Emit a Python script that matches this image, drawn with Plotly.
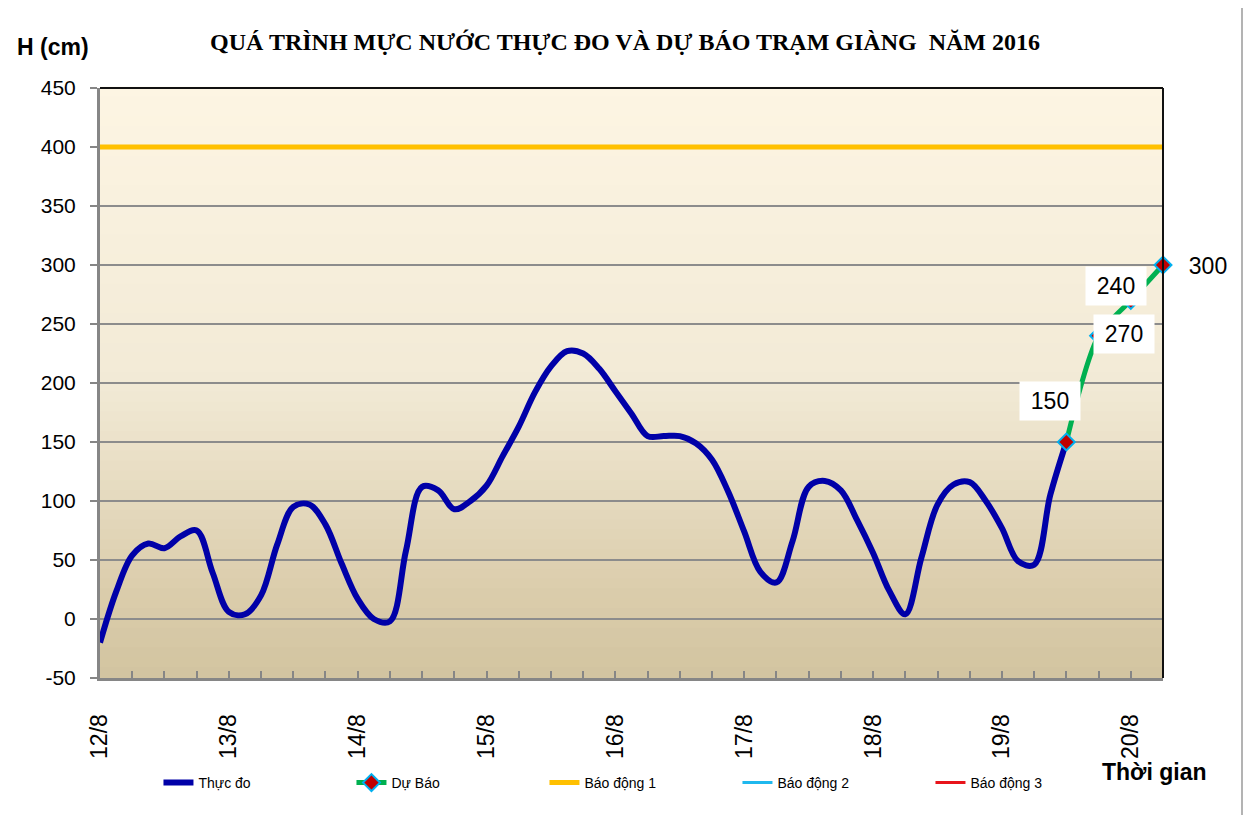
import plotly.graph_objects as go

# ---------------- data ----------------
day_ticks = [0, 24, 48, 72, 96, 120, 144, 168, 192]
day_labels = ["12/8", "13/8", "14/8", "15/8", "16/8", "17/8", "18/8", "19/8", "20/8"]

y_ticks = [-50, 0, 50, 100, 150, 200, 250, 300, 350, 400, 450]
y_labels = ["-50", "0", "50", "100", "150", "200", "250", "300", "350", "400", "450"]

obs_hours = [0, 3, 6, 9, 12, 15, 18, 21, 24, 27, 30, 33, 36, 39, 42, 45, 48, 51, 54, 57,
             60, 63, 66, 69, 72, 75, 78, 81, 84, 87, 90, 93, 96, 99, 102, 105, 108, 111, 114, 117,
             120, 123, 126, 129, 132, 135, 138, 141, 144, 147, 150, 153, 156, 159, 162, 165, 168, 171, 174, 177,
             180]
obs_values = [-20, 23, 54, 64, 60, 70, 75, 39, 6, 4, 20, 63, 95, 97, 80, 47, 17, 0, -2, 58,
              112, 109, 93, 100, 113, 138, 163, 192, 214, 227, 225, 212, 193, 174, 155, 155, 155, 149, 135, 108,
              74, 40, 31, 66, 112, 117, 109, 84, 56, 24, 4, 52, 97, 114, 116, 100, 77, 49, 46, 105,
              150]

fc_hours = [180, 186, 192, 198]
fc_values = [150, 240, 270, 300]
fc_labels = ["150", "240", "270", "300"]

alarm_names = ["Báo động 1", "Báo động 2", "Báo động 3"]
alarm_levels = [400, None, None]
alarm_colors = ["#FFC000", "#1FB8EE", "#E8141B"]

x_range = [0, 198]

# ---------------- geometry helpers (page has 8px body margin) ----------------
OFF = 8
W, H = 1235, 808
PL, PR, PT, PB = 100, 1163, 88, 678   # plot area in screen pixels
PW, PH = PR - PL, PB - PT
def px(xs):
    return (xs - PL) / PW
def py(ys):
    return (PB - ys) / PH

fig = go.Figure()

fig.add_trace(go.Scatter(
    x=obs_hours, y=obs_values, mode="lines", name="Thực đo",
    line=dict(color="#0000A8", width=6, shape="spline", smoothing=1.0),
))

fig.add_trace(go.Scatter(
    x=fc_hours, y=fc_values, mode="lines+markers", name="Dự Báo",
    line=dict(color="#00B050", width=5, shape="spline", smoothing=0.8),
    marker=dict(symbol="diamond", size=13, color="#C00000",
                line=dict(color="#00B0F0", width=2)),
    cliponaxis=False,
))

for nm, lv, col in zip(alarm_names, alarm_levels, alarm_colors):
    fig.add_trace(go.Scatter(
        x=x_range, y=[lv, lv], mode="lines", name=nm,
        line=dict(color=col, width=5 if lv is not None else 3),
    ))

# background gradient (style only)
stops = [(0.0, (253, 245, 227)), (0.5, (242, 234, 214)), (0.85, (219, 205, 172)), (1.0, (210, 196, 160))]
def col_at(t):
    for (t0, c0), (t1, c1) in zip(stops[:-1], stops[1:]):
        if t0 <= t <= t1:
            f = (t - t0) / (t1 - t0)
            return "rgb(%d,%d,%d)" % tuple(round(a + (b - a) * f) for a, b in zip(c0, c1))
    return "rgb(%d,%d,%d)" % stops[-1][1]

n = 60
shapes = []
for i in range(n):
    t = (i + 0.5) / n
    shapes.append(dict(type="rect", xref="x domain", yref="y domain",
                       x0=0, x1=1, y0=1 - (i + 1) / n, y1=1 - i / n + 0.002,
                       fillcolor=col_at(t), line=dict(width=0), layer="below"))
shapes.append(dict(type="line", xref="x domain", yref="y domain", x0=0, x1=1, y0=1, y1=1,
                   line=dict(color="#111111", width=2)))
shapes.append(dict(type="line", xref="x domain", yref="y domain", x0=1, x1=1, y0=0, y1=1,
                   line=dict(color="#111111", width=2)))
# right edge of the outer chart frame
shapes.append(dict(type="line", xref="paper", yref="paper",
                   x0=px(1242), x1=px(1242), y0=py(815), y1=py(8),
                   line=dict(color="#9a9a9a", width=1.5)))

annotations = []
offsets = [(-16, 41), (17, 50), (-7, -34), (45, -1)]
for xh, yv, lab, (dx, dy) in zip(fc_hours, fc_values, fc_labels, offsets):
    annotations.append(dict(x=xh, y=yv, xref="x", yref="y", text=lab, showarrow=False,
                            xshift=dx, yshift=dy, font=dict(family="Arial", size=23, color="black"),
                            bgcolor="white", width=58, height=36))

annotations.append(dict(x=px(15), y=py(47), xref="paper", yref="paper", text="<b>H (cm)</b>",
                        showarrow=False, xanchor="left", yanchor="middle",
                        font=dict(family="Arial", size=23, color="black")))
annotations.append(dict(x=px(1100), y=py(772), xref="paper", yref="paper",
                        text="<b>Thời gian</b>", showarrow=False, xanchor="left", yanchor="middle",
                        font=dict(family="Arial", size=23, color="black")))

fig.update_layout(
    width=W, height=H,
    margin=dict(l=PL - OFF, r=W - (PR - OFF), t=PT - OFF, b=H - (PB - OFF)),
    paper_bgcolor="white", plot_bgcolor="#F3ECD9",
    title=dict(text="<b>QUÁ TRÌNH MỰC NƯỚC THỰC ĐO VÀ DỰ BÁO TRẠM GIÀNG  NĂM 2016</b>",
               x=(625 - OFF) / W, xanchor="center", y=1 - (42 - OFF) / H, yanchor="middle",
               font=dict(family="Liberation Serif", size=24, color="black")),
    showlegend=True,
    legend=dict(orientation="h", x=0.055, xanchor="left", y=py(783), yanchor="middle",
                font=dict(family="Arial", size=14, color="black"),
                entrywidth=148, entrywidthmode="pixels", bgcolor="rgba(0,0,0,0)"),
    shapes=shapes, annotations=annotations,
    xaxis=dict(range=x_range, tickvals=day_ticks, ticktext=day_labels, tickangle=-90,
               ticks="inside", ticklen=7, tickcolor="#868686", tickwidth=1.5,
               minor=dict(ticks="inside", ticklen=7, dtick=6, tick0=0, tickcolor="#868686", showgrid=False),
               showgrid=False, showline=True, linecolor="#868686", linewidth=3, zeroline=False,
               ticklabelstandoff=24,
               tickfont=dict(family="Arial", size=23, color="black")),
    yaxis=dict(range=[-50, 450], tickvals=y_ticks, ticktext=y_labels, ticks="outside", ticklen=7,
               tickcolor="#868686", tickwidth=2,
               showgrid=True, gridcolor="#8C8C8C", gridwidth=1.6,
               showline=True, linecolor="#868686", linewidth=3, zeroline=False,
               ticklabelstandoff=10,
               tickfont=dict(family="Arial", size=21, color="black")),
)

fig.write_html("out.html")
